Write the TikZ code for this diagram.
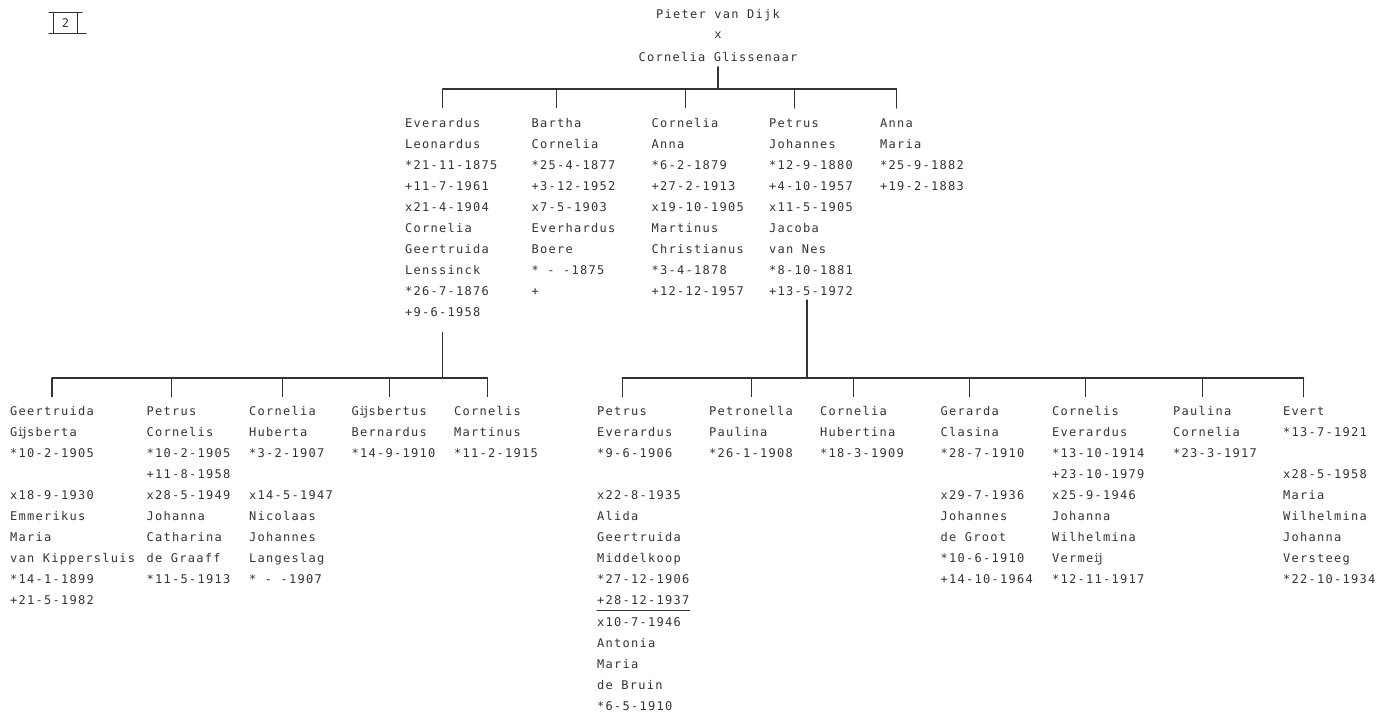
\documentclass[tikz,border=0pt]{standalone}
\usepackage{fontspec}
\newfontfamily\schrijfmachine[LetterSpace=10.6]{DejaVu Sans Mono}
\definecolor{inkt}{gray}{0.2}

% een kolom regels, eerste regel op basislijn y
\newcommand\persoon[4]{%
  \foreach [count=\i] \regel in {#4}
    \node[tekst] (#1-\i) at (#2,{-#3-(\i-1)*21.1}) {\regel};}

\begin{document}
\begin{tikzpicture}[line cap=round,line join=round,x=1pt,y=1pt,
  tekst/.style={anchor=base west,inner sep=0pt,text=inkt,
    font=\schrijfmachine\fontsize{12}{14}\selectfont},
  lijn/.style={draw=inkt,line width=1.1pt}]
\useasboundingbox (0,0) rectangle (1391,-716);
		% bladnummer
		\node[tekst,anchor=center,minimum width=23pt,minimum height=20pt] (blad) at (65.5,-23) {2};
		\draw[lijn] (blad.north west)--(blad.south west);
		\draw[lijn] (blad.north east)--(blad.south east);
		\draw[lijn] ([xshift=-5pt]blad.north west)--([xshift=5pt]blad.north east);
		\draw[lijn] ([xshift=-5pt]blad.south west)--([xshift=9pt]blad.south east);
		% Ouders
		\node[tekst,anchor=base] (vader) at (718,-18) {Pieter van Dijk};
		\node[tekst,anchor=base] (trouw) at (718,-38) {x};
		\node[tekst,anchor=base] (moeder) at (718,-61.5) {Cornelia Glissenaar};
		% Generatie 1
		\persoon{everardus}{405}{127}{Everardus,Leonardus,*21-11-1875,+11-7-1961,x21-4-1904,Cornelia,Geertruida,Lenssinck,*26-7-1876,+9-6-1958}
		\persoon{bartha}{531.5}{127}{Bartha,Cornelia,*25-4-1877,+3-12-1952,x7-5-1903,Everhardus,Boere,* - -1875,+}
		\persoon{cornelia}{651.5}{127}{Cornelia,Anna,*6-2-1879,+27-2-1913,x19-10-1905,Martinus,Christianus,*3-4-1878,+12-12-1957}
		\persoon{petrus}{769}{127}{Petrus,Johannes,*12-9-1880,+4-10-1957,x11-5-1905,Jacoba,van Nes,*8-10-1881,+13-5-1972}
		\persoon{anna}{880}{127}{Anna,Maria,*25-9-1882,+19-2-1883}
		\coordinate (balk1) at (718,-89);
		\draw[lijn] ([yshift=-5pt]moeder.south)--(balk1);
		\draw[lijn] (balk1 -| everardus-1.north)--(balk1 -| anna-1.north);
		\foreach \k in {everardus,bartha,cornelia,petrus,anna}
			\draw[lijn] (balk1 -| \k-1.north)--([yshift=10pt]\k-1.north);
		% Generatie 2, kinderen van Everardus
		\persoon{geertruida}{10}{415}{Geertruida,Gĳsberta,*10-2-1905,{},x18-9-1930,Emmerikus,Maria,van Kippersluis,*14-1-1899,+21-5-1982}
		\persoon{petruscor}{146.5}{415}{Petrus,Cornelis,*10-2-1905,+11-8-1958,x28-5-1949,Johanna,Catharina,de Graaff,*11-5-1913}
		\persoon{corneliahub}{249}{415}{Cornelia,Huberta,*3-2-1907,{},x14-5-1947,Nicolaas,Johannes,Langeslag,* - -1907}
		\persoon{gijsbertus}{351.5}{415}{Gĳsbertus,Bernardus,*14-9-1910}
		\persoon{cornelismar}{454}{415}{Cornelis,Martinus,*11-2-1915}
		\coordinate (balk2) at (441,-378);
		\draw[lijn] ([yshift=-15pt]everardus-10.south -| everardus-1.north)--(balk2 -| everardus-1.north);
		\draw[lijn] (balk2 -| geertruida-1.north)--(balk2 -| cornelismar-1.north);
		\foreach \k in {geertruida,petruscor,corneliahub,gijsbertus,cornelismar}
			\draw[lijn] (balk2 -| \k-1.north)--([yshift=9pt]\k-1.north);
		% Generatie 2, kinderen van Petrus
		\persoon{petrusev}{597}{415}{Petrus,Everardus,*9-6-1906,{},x22-8-1935,Alida,Geertruida,Middelkoop,*27-12-1906,+28-12-1937,x10-7-1946,Antonia,Maria,de Bruin,*6-5-1910}
		\persoon{petronella}{709}{415}{Petronella,Paulina,*26-1-1908}
		\persoon{corneliahubt}{820}{415}{Cornelia,Hubertina,*18-3-1909}
		\persoon{gerarda}{940.5}{415}{Gerarda,Clasina,*28-7-1910,{},x29-7-1936,Johannes,de Groot,*10-6-1910,+14-10-1964}
		\persoon{cornelisev}{1052}{415}{Cornelis,Everardus,*13-10-1914,+23-10-1979,x25-9-1946,Johanna,Wilhelmina,Vermeĳ,*12-11-1917}
		\persoon{paulina}{1173}{415}{Paulina,Cornelia,*23-3-1917}
		\persoon{evert}{1283}{415}{Evert,*13-7-1921,{},x28-5-1958,Maria,Wilhelmina,Johanna,Versteeg,*22-10-1934}
		\coordinate (afstam) at (807,-300);
		\coordinate (balk3) at (807,-378);
		\draw[lijn] (afstam)--(balk3);
		\draw[lijn] (balk3 -| petrusev-1.north)--(balk3 -| evert-1.north);
		\foreach \k in {petrusev,petronella,corneliahubt,gerarda,cornelisev,paulina,evert}
			\draw[lijn] (balk3 -| \k-1.north)--([yshift=9pt]\k-1.north);
		% scheiding tussen de twee huwelijken
		\draw[lijn] ([yshift=-6pt]petrusev-10.base west)--([yshift=-6pt]petrusev-10.base east);
\end{tikzpicture}
\end{document}
